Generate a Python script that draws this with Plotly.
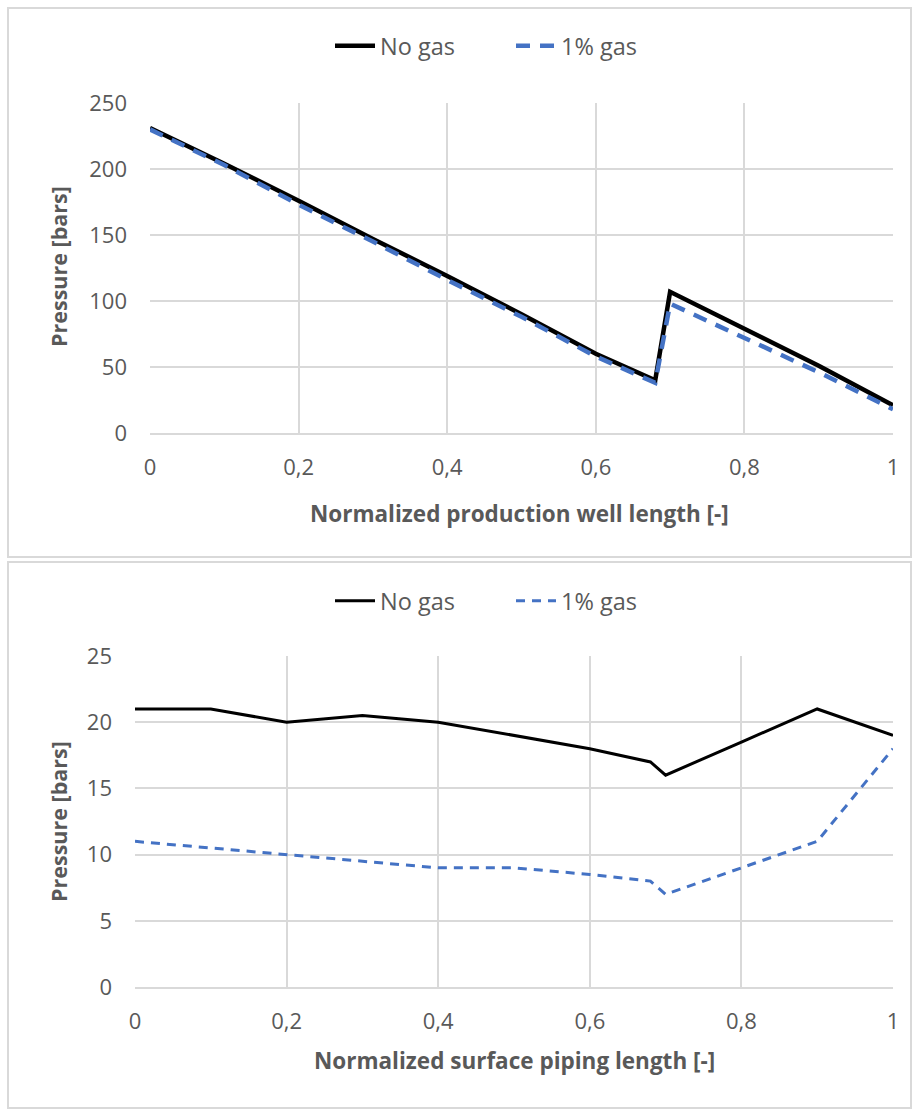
import plotly.graph_objects as go

# ---- data ----
x_well = [0, 0.1, 0.2, 0.3, 0.4, 0.5, 0.6, 0.68, 0.7, 0.8, 0.9, 1.0]
p_well_nogas = [231, 204, 176, 147, 119, 90, 60, 40, 107, 79, 51, 21]
p_well_gas = [230, 203, 173, 145, 116, 88, 58, 38, 98, 72, 46, 18]

x_surf = [0, 0.1, 0.2, 0.3, 0.4, 0.5, 0.6, 0.68, 0.7, 0.8, 0.9, 1.0]
p_surf_nogas = [21, 21, 20, 20.5, 20, 19, 18, 17, 16, 18.5, 21, 19]
p_surf_gas = [11, 10.5, 10, 9.5, 9, 9, 8.5, 8, 7, 9, 11, 18]

x_ticks = [0, 0.2, 0.4, 0.6, 0.8, 1]
x_ticktext = ["0", "0,2", "0,4", "0,6", "0,8", "1"]
y1_ticks = [0, 50, 100, 150, 200, 250]
y2_ticks = [0, 5, 10, 15, 20, 25]

W, H = 917, 1110
FONT = "Open Sans, Lato, sans-serif"
TXT = "#595959"
GRID = "#d9d9d9"
BLACK = "#000000"
BLUE = "#4472c4"


def px_x(p):
    return p / W


def px_y(p):
    return 1 - p / H


fig = go.Figure()
fig.add_trace(go.Scatter(x=x_well, y=p_well_nogas, name="No gas", mode="lines",
                         line=dict(color=BLACK, width=4.5), xaxis="x", yaxis="y",
                         legend="legend"))
fig.add_trace(go.Scatter(x=x_well, y=p_well_gas, name="1% gas", mode="lines",
                         line=dict(color=BLUE, width=4.5, dash="14px,10px"), xaxis="x", yaxis="y",
                         legend="legend"))
fig.add_trace(go.Scatter(x=x_surf, y=p_surf_nogas, name="No gas", mode="lines",
                         line=dict(color=BLACK, width=3), xaxis="x2", yaxis="y2",
                         legend="legend2"))
fig.add_trace(go.Scatter(x=x_surf, y=p_surf_gas, name="1% gas", mode="lines",
                         line=dict(color=BLUE, width=3, dash="9px,7px"), xaxis="x2", yaxis="y2",
                         legend="legend2"))

tickfont = dict(family=FONT, size=22, color=TXT)
common_x = dict(range=[0, 1], tickvals=x_ticks, ticktext=x_ticktext, showgrid=True, gridcolor=GRID,
                gridwidth=1.5, zeroline=False, showline=True, linecolor=GRID, linewidth=1.5,
                ticks="", tickfont=tickfont, ticklabelstandoff=14, fixedrange=True, automargin=False)
common_y = dict(showgrid=True, gridcolor=GRID, gridwidth=1.5, zeroline=False, showline=False,
                ticks="", tickfont=tickfont, ticklabelstandoff=22, fixedrange=True, automargin=False)

legfont = dict(family=FONT, size=23.5, color=TXT)

fig.update_layout(
    width=W, height=H,
    autosize=False,
    margin=dict(l=0, r=0, t=0, b=0, pad=0),
    paper_bgcolor="white", plot_bgcolor="white",
    xaxis=dict(domain=[px_x(150), px_x(893)], anchor="y", **common_x),
    yaxis=dict(domain=[px_y(433), px_y(103)], anchor="x", range=[0, 250], tickvals=y1_ticks, **common_y),
    xaxis2=dict(domain=[px_x(135), px_x(893)], anchor="y2", **common_x),
    yaxis2=dict(domain=[px_y(987), px_y(656)], anchor="x2", range=[0, 25], tickvals=y2_ticks, **common_y),
    legend=dict(orientation="h", x=px_x(330), xanchor="left", y=px_y(46), yanchor="middle",
                font=legfont, bgcolor="rgba(0,0,0,0)", itemwidth=40, entrywidth=126),
    legend2=dict(orientation="h", x=px_x(330), xanchor="left", y=px_y(601), yanchor="middle",
                 font=legfont, bgcolor="rgba(0,0,0,0)", itemwidth=40, entrywidth=126),
    showlegend=True,
)

# axis titles as annotations
titles = [
    ("Normalized production well length [-]", px_x(519), px_y(514), 0, 22.5),
    ("Pressure [bars]", px_x(58), px_y(267), -90, 21.5),
    ("Normalized surface piping length [-]", px_x(514), px_y(1060), 0, 22.5),
    ("Pressure [bars]", px_x(58), px_y(822), -90, 21.5),
]
for text, x, y, ang, sz in titles:
    fig.add_annotation(text=f"<b>{text}</b>", x=x, y=y, xref="paper", yref="paper",
                       xanchor="center", yanchor="middle", showarrow=False, textangle=ang,
                       font=dict(family=FONT, size=sz, color=TXT))

# panel borders
for y0, y1 in [(8, 557), (562, 1108)]:
    fig.add_shape(type="rect", xref="paper", yref="paper",
                  x0=px_x(8), x1=px_x(911), y0=px_y(y1), y1=px_y(y0),
                  line=dict(color=GRID, width=2), fillcolor="rgba(0,0,0,0)", layer="below")

fig.write_html("out.html", post_script="document.body.style.margin='0';")
